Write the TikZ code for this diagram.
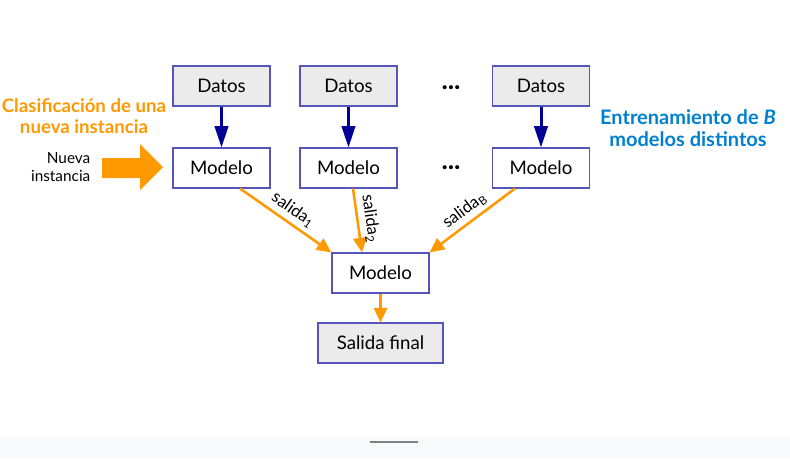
\documentclass[tikz,border=0pt]{standalone}
\usepackage{fontspec}
\setmainfont{Lato}
\usetikzlibrary{positioning,arrows.meta}
\definecolor{boxline}{RGB}{85,85,187}
\definecolor{boxfill}{RGB}{235,235,235}
\definecolor{navy}{RGB}{0,0,150}
\definecolor{naranja}{RGB}{255,153,0}
\definecolor{celeste}{RGB}{0,128,208}
\definecolor{banda}{RGB}{248,249,251}
\begin{document}
\begin{tikzpicture}[x=0.75pt,y=-0.75pt,
                     box node/.style={rectangle,draw=boxline,line width=0.8pt,fill=white,minimum width=72.75pt,minimum height=30pt,inner sep=0pt,font=\fontsize{14}{16}\selectfont},
                     data node/.style={box node,fill=boxfill},
                     dots node/.style={anchor=base,font=\fontsize{20}{20}\selectfont\bfseries},
                     train edge/.style={draw=navy,line width=2.25pt,-{Triangle[length=16pt,width=10pt]}},
                     out edge/.style={draw=naranja,line width=1.9pt,-{Triangle[length=11pt,width=10pt]}},
                     out label/.style={sloped,above,inner sep=3pt,font=\fontsize{12.5}{14}\selectfont}
                    ]
   \useasboundingbox (0,0) rectangle (790,458);
   \fill[banda] (0,437) rectangle (790,458);
   \draw[line width=1.5pt,gray] (370,442) -- (418,442);
   \node[data node] (d1) at (221.5,86) {Datos};
   \node[data node] (d2) at (348.5,86) {Datos};
   \node[data node] (d3) at (541,86) {Datos};
   \node[box node] (m1) at (221.5,168) {Modelo};
   \node[box node] (m2) at (348.5,168) {Modelo};
   \node[box node] (m3) at (541,168) {Modelo};
   \node[dots node] (dots1) at (451,89) {...};
   \node[dots node] (dots2) at (451,169) {...};
   \node[box node] (mf) at (380.5,273) {Modelo};
   \node[data node,minimum width=93.75pt] (sf) at (380.5,343) {Salida final};
   % flecha de la nueva instancia
   \fill[naranja] (102,158) -- (140,158) -- (140,144) -- (163,167) -- (140,190) -- (140,178) -- (102,178) -- cycle;
   \node[align=right,anchor=east,font=\fontsize{11.5}{13.5}\selectfont] (nueva) at (95,167) {Nueva\\instancia};
   \node[align=center,text=naranja,font=\fontsize{14}{16}\selectfont\bfseries] (clasif) at (84,116) {Clasificación de una\\nueva instancia};
   \node[align=center,text=celeste,font=\fontsize{15}{16.5}\selectfont\bfseries] (entren) at (688,128) {Entrenamiento de \textit{B}\\modelos distintos};
   \path%
     (d1) edge [train edge] (m1)
     (d2) edge [train edge] (m2)
     (d3) edge [train edge] (m3)
     (m1.south -| 240,0) edge [out edge] node [out label] {salida\textsubscript{1}} (mf.north west)
     (m2.south -| 353,0) edge [out edge] node [out label] {salida\textsubscript{2}} (mf.north -| 362,0)
     (m3.south -| 515,0) edge [out edge] node [out label] {salida\textsubscript{B}} (mf.north east)
     (mf) edge [out edge] (sf);
 \end{tikzpicture}
\end{document}
